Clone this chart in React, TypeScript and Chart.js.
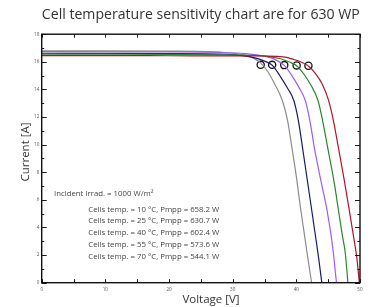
import React, { useEffect, useRef } from "react";
import { Chart, registerables } from "chart.js";
Chart.register(...registerables);

const FONT = '"Open Sans", "DejaVu Sans", sans-serif';

const TITLE = "Cell temperature sensitivity chart are for 630 WP";
const X_TITLE = "Voltage [V]";
const Y_TITLE = "Current [A]";
const IRRAD = "Incident Irrad. = 1000 W/m²";

const TEMPS = [10, 25, 40, 55, 70];
const PMPP = ["658.2", "630.7", "602.4", "573.6", "544.1"];
const COLORS = ["#a8182a", "#2a862a", "#9a5ef0", "#1a1a6c", "#8c8c8c"];

const V_10 = [0, 10, 20, 30, 35, 37, 38.5, 39.6, 40.8, 41.9, 43, 44, 45, 45.8, 46.6, 47.5, 48.3, 49, 49.5, 49.9];
const I_10 = [16.45, 16.45, 16.44, 16.43, 16.42, 16.4, 16.32, 16.17, 15.97, 15.7, 15.15, 14.45, 13.3, 11.8, 9.8, 7.5, 5.3, 3.3, 1.8, 0];

const V_25 = [0, 10, 20, 30, 34, 36, 37.5, 38.8, 40.05, 41.2, 42.3, 43.4, 44.1, 45, 46, 46.6, 47.2, 47.7, 48.1];
const I_25 = [16.56, 16.55, 16.54, 16.5, 16.45, 16.36, 16.22, 16.0, 15.72, 15.1, 14.3, 13.2, 11.8, 9.6, 7.1, 5.3, 3.5, 2.1, 0];

const V_40 = [0, 10, 20, 28, 32, 34.5, 36.5, 38.1, 39.3, 40.4, 41.4, 42.1, 42.9, 43.9, 44.8, 45.5, 45.9, 46.3];
const I_40 = [16.74, 16.73, 16.72, 16.68, 16.6, 16.45, 16.2, 15.74, 15.0, 14.15, 13.2, 11.8, 9.6, 7.3, 5.3, 3.3, 1.8, 0];

const V_55 = [0, 10, 20, 28, 31.5, 33.5, 35, 36.2, 37.4, 38.6, 39.6, 40.3, 41, 41.7, 42.4, 43, 43.5, 44.0];
const I_55 = [16.62, 16.61, 16.6, 16.56, 16.45, 16.28, 16.05, 15.76, 15.0, 14.1, 13.2, 11.8, 9.7, 7.5, 5.3, 3.4, 1.8, 0];

const V_70 = [0, 10, 20, 26, 29.5, 31.8, 33.3, 34.4, 35.5, 36.6, 37.8, 38.6, 39.3, 40, 40.6, 41.2, 41.8, 42.4];
const I_70 = [16.8, 16.79, 16.77, 16.74, 16.64, 16.5, 16.25, 15.92, 15.3, 14.4, 13.2, 11.8, 9.8, 7.7, 5.6, 3.7, 1.8, 0];

const MPP_V = [41.9, 40.05, 38.1, 36.2, 34.4];
const MPP_I = [15.72, 15.74, 15.76, 15.78, 15.78];

const CURVES_V = [V_10, V_25, V_40, V_55, V_70];
const CURVES_I = [I_10, I_25, I_40, I_55, I_70];

const X_MAJOR = [0, 10, 20, 30, 40, 50];
const X_MINOR = [5, 15, 25, 35, 45];
const Y_MAJOR = [0, 2, 4, 6, 8, 10, 12, 14, 16, 18];
const Y_MINOR = [1, 3, 5, 7, 9, 11, 13, 15, 17];

const framePlugin = {
  id: "frame",
  afterDraw(chart: any) {
    const { ctx, chartArea: a, scales } = chart;
    const xs = scales.x;
    const ys = scales.y;
    ctx.save();
    ctx.strokeStyle = "#1a1a1a";
    ctx.lineWidth = 1;
    const tickX = (v: number, len: number) => {
      const px = Math.round(xs.getPixelForValue(v)) + 0.5;
      ctx.beginPath();
      ctx.moveTo(px, a.bottom);
      ctx.lineTo(px, a.bottom - len);
      ctx.moveTo(px, a.top);
      ctx.lineTo(px, a.top + len);
      ctx.stroke();
    };
    const tickY = (v: number, len: number) => {
      const py = Math.round(ys.getPixelForValue(v)) + 0.5;
      ctx.beginPath();
      ctx.moveTo(a.left, py);
      ctx.lineTo(a.left + len, py);
      ctx.moveTo(a.right, py);
      ctx.lineTo(a.right - len, py);
      ctx.stroke();
    };
    X_MAJOR.forEach((v) => tickX(v, 3.5));
    X_MINOR.forEach((v) => tickX(v, 3.5));
    Y_MAJOR.forEach((v) => tickY(v, 5));
    Y_MINOR.forEach((v) => tickY(v, 2.5));
    ctx.lineWidth = 1.4;
    ctx.strokeStyle = "#111";
    ctx.strokeRect(a.left, a.top, a.right - a.left, a.bottom - a.top);

    ctx.fillStyle = "#333";
    ctx.textBaseline = "alphabetic";
    ctx.textAlign = "center";
    ctx.font = `14.1px ${FONT}`;
    ctx.fillText(TITLE, (a.left + a.right) / 2, 18.7);

    ctx.font = `11.5px ${FONT}`;
    ctx.fillText(X_TITLE, 211, 303);

    ctx.save();
    ctx.translate(28.5, 152);
    ctx.rotate(-Math.PI / 2);
    ctx.fillText(Y_TITLE, 0, 0);
    ctx.restore();

    ctx.fillStyle = "#444";
    ctx.textAlign = "left";
    ctx.textBaseline = "middle";
    ctx.font = `7.8px ${FONT}`;
    ctx.fillText(IRRAD, 54, 193.5);
    TEMPS.forEach((t, i) => {
      ctx.fillText(`Cells temp. = ${t} °C, Pmpp = ${PMPP[i]} W`, 88.3, 209.3 + i * 11.9);
    });
    ctx.restore();
  },
};

export default function App() {
  const ref = useRef<HTMLCanvasElement>(null);
  useEffect(() => {
    const datasets: any[] = CURVES_V.map((vs, k) => ({
      label: `${TEMPS[k]} °C`,
      data: vs.map((v, j) => ({ x: v, y: CURVES_I[k][j] })),
      borderColor: COLORS[k],
      backgroundColor: COLORS[k],
      borderWidth: 1.2,
      pointRadius: 0,
      cubicInterpolationMode: "monotone",
      fill: false,
    }));
    datasets.push({
      label: "MPP",
      data: MPP_V.map((v, j) => ({ x: v, y: MPP_I[j] })),
      showLine: false,
      pointRadius: 3.6,
      pointBorderWidth: 1.3,
      pointBorderColor: "#111",
      pointBackgroundColor: "rgba(255,255,255,0.9)",
    });
    const chart = new Chart(ref.current as HTMLCanvasElement, {
      type: "line",
      data: { datasets },
      options: {
        animation: false,
        responsive: false,
        devicePixelRatio: 1,
        layout: { padding: { top: 34.2, right: 16, left: 0, bottom: 0 } },
        plugins: { legend: { display: false }, tooltip: { enabled: false }, title: { display: false } },
        scales: {
          x: {
            type: "linear",
            min: 0,
            max: 50,
            afterFit: (s: any) => {
              s.height = 24.3;
            },
            grid: { display: false, drawTicks: false },
            border: { display: false },
            ticks: { stepSize: 10, padding: 4, maxRotation: 0, color: "#555", font: { size: 4.6, family: FONT } },
          },
          y: {
            type: "linear",
            min: 0,
            max: 18,
            afterFit: (s: any) => {
              s.width = 41.7;
            },
            grid: { display: false, drawTicks: false },
            border: { display: false },
            ticks: { stepSize: 2, padding: 2.4, color: "#555", font: { size: 4.6, family: FONT } },
          },
        },
      } as any,
      plugins: [framePlugin],
    });
    return () => chart.destroy();
  }, []);
  return (
    <div style={{ position: "fixed", left: 0, top: 0, width: 376, height: 307, background: "#fff" }}>
      <canvas ref={ref} width={376} height={307} style={{ display: "block" }} />
    </div>
  );
}
